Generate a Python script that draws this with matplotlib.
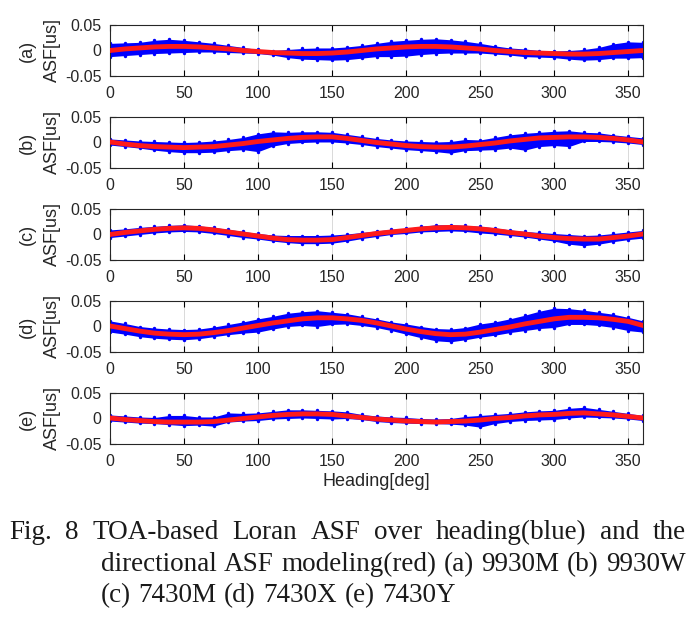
import matplotlib
matplotlib.use("Agg")
import matplotlib.pyplot as plt

HEADING = list(range(0, 361, 10))
PANELS = ["(a)", "(b)", "(c)", "(d)", "(e)"]
X_TICKS = [0, 50, 100, 150, 200, 250, 300, 350]
Y_TICKS = [-0.05, 0, 0.05]
Y_TICK_LABELS = ["-0.05", "0", "0.05"]

# directional ASF model (red)
MODEL_A = [0.000, 0.003, 0.005, 0.007, 0.008, 0.008, 0.007, 0.005, 0.003, 0.000,
           -0.002, -0.004, -0.005, -0.006, -0.006, -0.005, -0.003, 0.000, 0.003, 0.005,
           0.007, 0.008, 0.008, 0.007, 0.005, 0.003, 0.000, -0.002, -0.004, -0.005,
           -0.006, -0.007, -0.007, -0.006, -0.004, -0.002, 0.000]
MODEL_B = [0.001, -0.003, -0.006, -0.008, -0.009, -0.010, -0.009, -0.008, -0.005, -0.002,
           0.002, 0.005, 0.008, 0.010, 0.011, 0.011, 0.008, 0.004, 0.000, -0.003,
           -0.006, -0.008, -0.009, -0.009, -0.007, -0.004, -0.001, 0.003, 0.006, 0.009,
           0.010, 0.011, 0.011, 0.010, 0.008, 0.005, 0.001]
MODEL_C = [0.000, 0.004, 0.007, 0.010, 0.012, 0.013, 0.012, 0.009, 0.005, 0.001,
           -0.003, -0.007, -0.010, -0.011, -0.011, -0.010, -0.006, -0.002, 0.002, 0.005,
           0.008, 0.011, 0.013, 0.014, 0.013, 0.011, 0.008, 0.004, 0.001, -0.003,
           -0.006, -0.008, -0.009, -0.009, -0.006, -0.003, 0.001]
MODEL_D = [0.001, -0.004, -0.009, -0.013, -0.015, -0.016, -0.015, -0.012, -0.008, -0.003,
           0.002, 0.007, 0.011, 0.015, 0.017, 0.017, 0.015, 0.012, 0.007, 0.001,
           -0.005, -0.010, -0.014, -0.016, -0.015, -0.011, -0.006, -0.001, 0.005, 0.010,
           0.015, 0.018, 0.018, 0.017, 0.014, 0.010, 0.002]
MODEL_E = [0.001, -0.002, -0.004, -0.006, -0.007, -0.007, -0.007, -0.006, -0.003, 0.000,
           0.003, 0.006, 0.008, 0.009, 0.009, 0.008, 0.005, 0.002, -0.001, -0.003,
           -0.005, -0.006, -0.007, -0.006, -0.005, -0.003, 0.000, 0.002, 0.005, 0.007,
           0.008, 0.010, 0.011, 0.009, 0.007, 0.004, 0.001]

# measured TOA-based ASF spread (blue), upper / lower edge of the point cloud
UPPER_A = [0.014, 0.015, 0.016, 0.020, 0.022, 0.020, 0.017, 0.014, 0.010, 0.006,
           0.002, 0.000, 0.002, 0.004, 0.005, 0.005, 0.007, 0.010, 0.014, 0.018,
           0.020, 0.022, 0.023, 0.021, 0.018, 0.014, 0.009, 0.005, 0.003, 0.000,
           -0.001, 0.000, 0.002, 0.006, 0.013, 0.017, 0.016]
LOWER_A = [-0.012, -0.010, -0.008, -0.006, -0.005, -0.004, -0.003, -0.003, -0.004, -0.005,
           -0.006, -0.009, -0.014, -0.017, -0.018, -0.019, -0.018, -0.015, -0.012, -0.012,
           -0.011, -0.008, -0.006, -0.005, -0.005, -0.005, -0.007, -0.009, -0.012, -0.013,
           -0.014, -0.017, -0.019, -0.018, -0.015, -0.015, -0.014]
UPPER_B = [0.007, 0.005, 0.003, 0.002, 0.001, 0.000, 0.001, 0.003, 0.006, 0.010,
           0.017, 0.021, 0.020, 0.021, 0.021, 0.020, 0.016, 0.012, 0.008, 0.005,
           0.003, 0.002, 0.001, 0.002, 0.006, 0.005, 0.010, 0.015, 0.018, 0.020,
           0.022, 0.023, 0.020, 0.019, 0.015, 0.012, 0.009]
LOWER_B = [-0.005, -0.008, -0.011, -0.015, -0.018, -0.020, -0.020, -0.019, -0.016, -0.014,
           -0.018, -0.007, -0.002, 0.000, 0.001, 0.001, -0.001, -0.004, -0.008, -0.011,
           -0.014, -0.016, -0.018, -0.021, -0.016, -0.015, -0.014, -0.011, -0.015, -0.008,
           -0.006, -0.008, 0.002, 0.002, 0.001, -0.001, -0.004]
UPPER_C = [0.009, 0.011, 0.014, 0.016, 0.018, 0.019, 0.017, 0.014, 0.010, 0.006,
           0.002, -0.001, -0.002, -0.002, -0.002, -0.001, 0.001, 0.004, 0.007, 0.010,
           0.012, 0.016, 0.019, 0.019, 0.018, 0.016, 0.013, 0.009, 0.006, 0.004,
           0.002, 0.000, -0.002, -0.001, 0.002, 0.005, 0.008]
LOWER_C = [-0.006, -0.003, 0.000, 0.003, 0.005, 0.006, 0.005, 0.002, -0.002, -0.006,
           -0.009, -0.013, -0.016, -0.018, -0.018, -0.017, -0.013, -0.008, -0.004, 0.000,
           0.002, 0.005, 0.006, 0.007, 0.006, 0.003, 0.001, -0.002, -0.005, -0.009,
           -0.013, -0.019, -0.022, -0.019, -0.014, -0.010, -0.007]
UPPER_D = [0.011, 0.006, 0.000, -0.003, -0.005, -0.006, -0.005, -0.001, 0.004, 0.009,
           0.015, 0.020, 0.026, 0.029, 0.031, 0.028, 0.025, 0.020, 0.015, 0.009,
           0.005, 0.000, -0.004, -0.005, -0.002, 0.005, 0.009, 0.015, 0.022, 0.030,
           0.036, 0.035, 0.032, 0.028, 0.024, 0.018, 0.011]
LOWER_D = [-0.011, -0.015, -0.020, -0.023, -0.025, -0.026, -0.024, -0.020, -0.016, -0.013,
           -0.011, -0.005, 0.000, 0.002, 0.000, 0.004, 0.005, 0.002, -0.002, -0.008,
           -0.015, -0.022, -0.028, -0.030, -0.026, -0.021, -0.017, -0.012, -0.008, -0.004,
           -0.002, 0.004, 0.004, 0.002, -0.002, -0.008, -0.011]
UPPER_E = [0.007, 0.005, 0.003, 0.002, 0.006, 0.006, 0.003, 0.003, 0.011, 0.010,
           0.011, 0.014, 0.017, 0.017, 0.016, 0.015, 0.013, 0.008, 0.005, 0.003,
           0.002, 0.000, -0.001, 0.000, 0.004, 0.006, 0.008, 0.010, 0.013, 0.015,
           0.016, 0.020, 0.022, 0.018, 0.014, 0.010, 0.006]
LOWER_E = [-0.005, -0.007, -0.009, -0.010, -0.012, -0.014, -0.013, -0.015, -0.007, -0.005,
           -0.004, -0.001, 0.000, 0.001, 0.000, -0.001, 0.000, -0.002, -0.006, -0.008,
           -0.009, -0.010, -0.010, -0.011, -0.013, -0.017, -0.010, -0.006, -0.004, -0.003,
           -0.002, 0.001, 0.003, 0.002, 0.001, -0.001, -0.004]

MODELS = [MODEL_A, MODEL_B, MODEL_C, MODEL_D, MODEL_E]
UPPERS = [UPPER_A, UPPER_B, UPPER_C, UPPER_D, UPPER_E]
LOWERS = [LOWER_A, LOWER_B, LOWER_C, LOWER_D, LOWER_E]

CAPTION = ["Fig. 8 TOA-based Loran ASF over heading(blue) and the",
           "directional ASF modeling(red) (a) 9930M (b) 9930W",
           "(c) 7430M (d) 7430X (e) 7430Y"]

plt.rcParams["font.family"] = ["Liberation Sans", "DejaVu Sans"]

W, H = 700, 628
fig = plt.figure(figsize=(W / 100, H / 100), dpi=100)

# axes boxes in pixels of the 700x628 picture
ax_left, ax_right = 110, 643
tops = [25, 117, 209, 301, 393]
box_h = 51

for i, name in enumerate(PANELS):
    top = tops[i]
    ax = fig.add_axes([ax_left / W, 1 - (top + box_h) / H,
                       (ax_right - ax_left) / W, box_h / H])
    ax.fill_between(HEADING, LOWERS[i], UPPERS[i], color="#0000ff", lw=0, zorder=2)
    ax.scatter(HEADING, UPPERS[i], s=6, color="#0000ff", lw=0, zorder=2)
    ax.scatter(HEADING, LOWERS[i], s=6, color="#0000ff", lw=0, zorder=2)
    ax.plot(HEADING, MODELS[i], color="#ff1a1a", lw=3.5, zorder=3)

    ax.set_xlim(0, 360)
    ax.set_ylim(-0.05, 0.05)
    ax.set_xticks(X_TICKS)
    ax.set_yticks(Y_TICKS)
    ax.set_yticklabels(Y_TICK_LABELS)
    ax.tick_params(direction="in", top=True, right=True, length=4, width=0.8,
                   labelsize=11.5, labelcolor="#262626")
    ax.tick_params(axis="x", pad=7)
    ax.tick_params(axis="y", pad=6)
    ax.xaxis.grid(True, color="#d9d9d9", lw=0.7)
    ax.set_axisbelow(True)
    for sp in ax.spines.values():
        sp.set_linewidth(0.8)
        sp.set_color("#262626")
    ax.set_ylabel(name + "\nASF[us]", fontsize=13, color="#262626",
                  linespacing=1.6, labelpad=3)
    if i == len(PANELS) - 1:
        ax.set_xlabel("Heading[deg]", fontsize=13, color="#262626", labelpad=3)

# caption under the chart, words spread over the same width as the source
renderer = fig.canvas.get_renderer()
cap_style = dict(fontsize=19.5, family="Liberation Serif", va="baseline",
                 ha="left", color="#1a1a1a")


def put_line(text, x0, baseline, x1=None, gap=None):
    words = text.split(" ")
    items = [fig.text(0, 1 - baseline / H, w, **cap_style) for w in words]
    widths = [t.get_window_extent(renderer).width for t in items]
    if gap is None:
        gap = (x1 - x0 - sum(widths)) / (len(words) - 1)
    x = x0
    for t, w in zip(items, widths):
        t.set_x(x / W)
        x += w + gap
    return gap


put_line(CAPTION[0], 9, 539, x1=686)
gap2 = put_line(CAPTION[1], 101, 571, x1=686)
put_line(CAPTION[2], 101, 602, gap=gap2)

fig.savefig("out.png", dpi=100)
